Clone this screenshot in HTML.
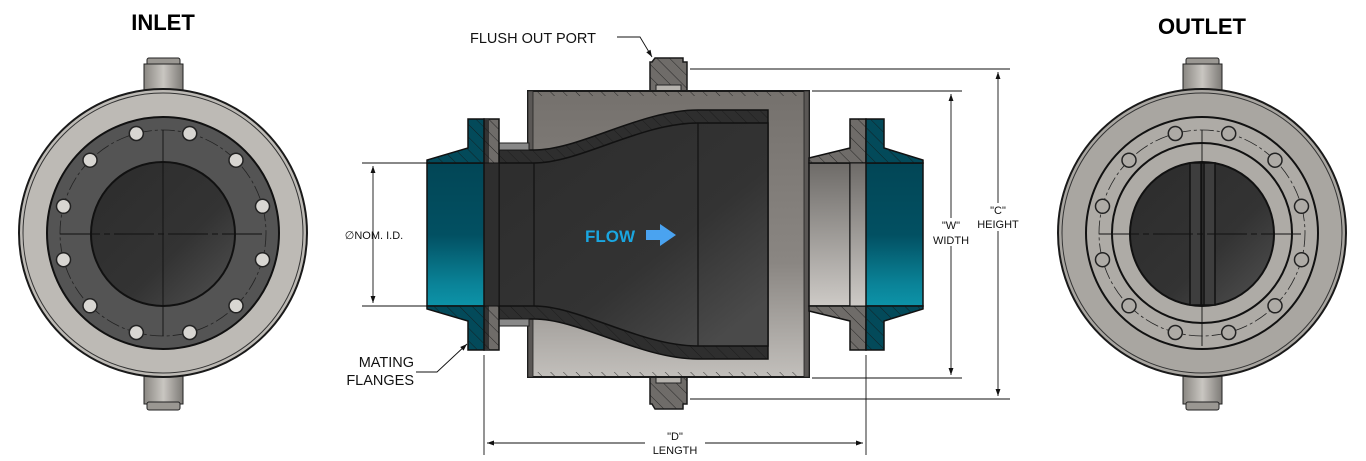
<!DOCTYPE html>
<html><head><meta charset="utf-8"><style>
html,body{margin:0;padding:0;background:#fff;}
svg{display:block;font-family:"Liberation Sans",sans-serif;}
</style></head><body>
<svg width="1366" height="461" viewBox="0 0 1366 461" xmlns="http://www.w3.org/2000/svg">
<defs>
<pattern id="h" patternUnits="userSpaceOnUse" width="9" height="9" patternTransform="rotate(-45)">
<line x1="0" y1="0" x2="0" y2="9" stroke="#151515" stroke-width="0.8"/></pattern>
<linearGradient id="teal" x1="0" y1="0" x2="0" y2="1"><stop offset="0" stop-color="#024656"/><stop offset="0.5" stop-color="#025062"/><stop offset="0.85" stop-color="#0a8398"/><stop offset="1" stop-color="#0d93a8"/></linearGradient>
<linearGradient id="hous" x1="0" y1="0" x2="0" y2="1"><stop offset="0" stop-color="#75716d"/><stop offset="0.6" stop-color="#8a8682"/><stop offset="1" stop-color="#c2bfbb"/></linearGradient>
<linearGradient id="neck" x1="0" y1="0" x2="0" y2="1"><stop offset="0" stop-color="#6e6b68"/><stop offset="1" stop-color="#cdcac6"/></linearGradient>
<linearGradient id="bore" x1="0" y1="0" x2="1" y2="1"><stop offset="0" stop-color="#2c2c2c"/><stop offset="0.6" stop-color="#333"/><stop offset="0.9" stop-color="#4a4a4a"/></linearGradient>
<linearGradient id="port" x1="0" y1="0" x2="1" y2="0"><stop offset="0" stop-color="#8a8782"/><stop offset="0.5" stop-color="#c9c6c1"/><stop offset="1" stop-color="#7d7a76"/></linearGradient>
<marker id="ar" viewBox="0 0 10 10" refX="10" refY="5" markerWidth="10" markerHeight="7" orient="auto-start-reverse" markerUnits="userSpaceOnUse"><path d="M0,1.5 L10,5 L0,8.5z" fill="#111"/></marker>
</defs>

<!-- ===== INLET ===== -->
<text x="163" y="30" font-size="22" font-weight="bold" text-anchor="middle">INLET</text>
<g>
<rect x="147" y="58" width="33" height="8" rx="2" fill="#9a9792" stroke="#222"/>
<rect x="144" y="64" width="39" height="28" fill="url(#port)" stroke="#222"/>
<rect x="144" y="374" width="39" height="30" fill="url(#port)" stroke="#222"/>
<rect x="147" y="402" width="33" height="8" rx="2" fill="#9a9792" stroke="#222"/>
<circle cx="163" cy="233" r="144" fill="#bdbab5" stroke="#1a1a1a" stroke-width="2"/>
<circle cx="163" cy="233" r="140" fill="none" stroke="#333" stroke-width="1"/>
<circle cx="163" cy="233" r="116" fill="#545454" stroke="#111" stroke-width="2"/>
<circle cx="163" cy="233" r="103" fill="none" stroke="#222" stroke-width="0.8" stroke-dasharray="14,3,3,3"/>
<circle cx="163" cy="234" r="72" fill="url(#bore)" stroke="#111" stroke-width="2"/>
<line x1="60" y1="234" x2="266" y2="234" stroke="#111" stroke-width="0.9" stroke-dasharray="40,4,6,4"/>
<line x1="163" y1="130" x2="163" y2="336" stroke="#111" stroke-width="0.9"/>
</g>
<g id="boltsI" fill="#d8d6d2" stroke="#222" stroke-width="1.5">
<circle cx="189.7" cy="133.5" r="7"/><circle cx="236" cy="160.2" r="7"/><circle cx="262.5" cy="206.3" r="7"/><circle cx="262.5" cy="259.7" r="7"/><circle cx="236" cy="305.8" r="7"/><circle cx="189.7" cy="332.5" r="7"/><circle cx="136.3" cy="332.5" r="7"/><circle cx="90" cy="305.8" r="7"/><circle cx="63.5" cy="259.7" r="7"/><circle cx="63.5" cy="206.3" r="7"/><circle cx="90" cy="160.2" r="7"/><circle cx="136.3" cy="133.5" r="7"/>
</g>

<!-- ===== OUTLET ===== -->
<text x="1202" y="34" font-size="22" font-weight="bold" text-anchor="middle">OUTLET</text>
<g>
<rect x="1186" y="58" width="33" height="8" rx="2" fill="#9a9792" stroke="#222"/>
<rect x="1183" y="64" width="39" height="28" fill="url(#port)" stroke="#222"/>
<rect x="1183" y="374" width="39" height="30" fill="url(#port)" stroke="#222"/>
<rect x="1186" y="402" width="33" height="8" rx="2" fill="#9a9792" stroke="#222"/>
<circle cx="1202" cy="233" r="144" fill="#a9a6a1" stroke="#1a1a1a" stroke-width="2"/>
<circle cx="1202" cy="233" r="140" fill="none" stroke="#333" stroke-width="1"/>
<circle cx="1202" cy="233" r="116" fill="#aeaba6" stroke="#111" stroke-width="2"/>
<circle cx="1202" cy="233" r="90" fill="none" stroke="#111" stroke-width="2"/>
<circle cx="1202" cy="233" r="103" fill="none" stroke="#222" stroke-width="0.8" stroke-dasharray="14,3,3,3"/>
<circle cx="1202" cy="234" r="72" fill="url(#bore)" stroke="#111" stroke-width="2"/>
<rect x="1190" y="163" width="25" height="142" fill="#3e3e3e" stroke="#111" stroke-width="1.5"/>
<line x1="1201" y1="163" x2="1201" y2="305" stroke="#111" stroke-width="1.5"/>
<line x1="1204" y1="163" x2="1204" y2="305" stroke="#111" stroke-width="1.5"/>
<line x1="1099" y1="234" x2="1305" y2="234" stroke="#111" stroke-width="0.9" stroke-dasharray="40,4,6,4"/>
<line x1="1202" y1="130" x2="1202" y2="346" stroke="#111" stroke-width="0.9"/>
</g>
<g fill="#aeaba6" stroke="#222" stroke-width="1.5">
<circle cx="1228.7" cy="133.5" r="7"/><circle cx="1275" cy="160.2" r="7"/><circle cx="1301.5" cy="206.3" r="7"/><circle cx="1301.5" cy="259.7" r="7"/><circle cx="1275" cy="305.8" r="7"/><circle cx="1228.7" cy="332.5" r="7"/><circle cx="1175.3" cy="332.5" r="7"/><circle cx="1129" cy="305.8" r="7"/><circle cx="1102.5" cy="259.7" r="7"/><circle cx="1102.5" cy="206.3" r="7"/><circle cx="1129" cy="160.2" r="7"/><circle cx="1175.3" cy="133.5" r="7"/>
</g>

<!-- ===== SECTION VIEW ===== -->
<!-- ports -->
<path d="M652,62 L655,58 L683,58 L683,62 L687,62 L687,91 L650,91 L650,62Z" fill="#6f6c69" stroke="#1a1a1a" stroke-width="1.5"/>
<path d="M652,62 L655,58 L683,58 L683,62 L687,62 L687,91 L650,91 L650,62Z" fill="url(#h)"/>
<rect x="656" y="85" width="25" height="6" fill="#b5b2ad" stroke="#222"/>
<path d="M650,377 L687,377 L687,404 L683,404 L683,409 L655,409 L652,404 L650,404Z" fill="#6f6c69" stroke="#1a1a1a" stroke-width="1.5"/>
<path d="M650,377 L687,377 L687,404 L683,404 L683,409 L655,409 L652,404 L650,404Z" fill="url(#h)"/>
<rect x="656" y="377" width="25" height="6" fill="#b5b2ad" stroke="#222"/>
<!-- housing -->
<rect x="528" y="91" width="281" height="286" fill="url(#hous)" stroke="#1a1a1a" stroke-width="2"/>
<rect x="528" y="91" width="281" height="5" fill="url(#h)"/>
<rect x="528" y="372" width="281" height="5" fill="url(#h)"/>
<rect x="804" y="91" width="5" height="286" fill="#5a5755" stroke="#222" stroke-width="0.8"/>
<rect x="528" y="91" width="5" height="286" fill="#5a5755" stroke="#222" stroke-width="0.8"/>
<!-- liner -->
<path d="M499,150 L534,150 C580,150 640,110 698,110 L768,110 L768,359 L698,359 C640,359 580,319 534,319 L499,319Z" fill="#2e2e2e" stroke="#111" stroke-width="1.5"/>
<path d="M499,150 L534,150 C580,150 640,110 698,110 L768,110 L768,359 L698,359 C640,359 580,319 534,319 L499,319Z" fill="url(#h)" opacity="0.9"/>
<path d="M484,163 L534,163 C580,163 640,123 698,123 L768,123 L768,346 L698,346 C640,346 580,306 534,306 L484,306Z" fill="url(#bore)" stroke="#111" stroke-width="1.5"/>
<line x1="534" y1="163" x2="534" y2="306" stroke="#111" stroke-width="1.2"/>
<line x1="698" y1="123" x2="698" y2="346" stroke="#111" stroke-width="1.2"/>
<!-- slots -->
<rect x="499" y="143" width="30" height="7" fill="#888" stroke="#222"/>
<rect x="499" y="319" width="30" height="7" fill="#888" stroke="#222"/>
<!-- left liner flange -->
<rect x="484" y="119" width="15" height="231" fill="#6f6c69" stroke="#111" stroke-width="1.5"/>
<rect x="484" y="119" width="5" height="231" fill="#333"/>
<rect x="484" y="119" width="15" height="231" fill="url(#h)"/>
<rect x="484" y="163" width="15" height="143" fill="#2e2e2e" stroke="#111"/>
<!-- left teal flange -->
<rect x="427" y="163" width="57" height="143" fill="url(#teal)" stroke="#111" stroke-width="1.5"/>
<path d="M427,163 L427,160 L468,148 L468,119 L484,119 L484,163Z" fill="#034a5a" stroke="#111" stroke-width="1.5"/>
<path d="M427,163 L427,160 L468,148 L468,119 L484,119 L484,163Z" fill="url(#h)"/>
<path d="M427,306 L427,309 L468,321 L468,350 L484,350 L484,306Z" fill="#034a5a" stroke="#111" stroke-width="1.5"/>
<path d="M427,306 L427,309 L468,321 L468,350 L484,350 L484,306Z" fill="url(#h)"/>
<!-- right neck -->
<rect x="809" y="163" width="41" height="143" fill="url(#neck)" stroke="#111" stroke-width="1.5"/>
<path d="M809,163 L809,158 L850,148 L850,119 L866,119 L866,163Z" fill="#6f6c69" stroke="#111" stroke-width="1.5"/>
<path d="M809,163 L809,158 L850,148 L850,119 L866,119 L866,163Z" fill="url(#h)"/>
<path d="M809,306 L809,311 L850,321 L850,350 L866,350 L866,306Z" fill="#6f6c69" stroke="#111" stroke-width="1.5"/>
<path d="M809,306 L809,311 L850,321 L850,350 L866,350 L866,306Z" fill="url(#h)"/>
<rect x="850" y="163" width="16" height="143" fill="url(#neck)" stroke="#111" stroke-width="1"/>
<!-- right teal flange -->
<rect x="866" y="163" width="57" height="143" fill="url(#teal)" stroke="#111" stroke-width="1.5"/>
<path d="M866,163 L866,119 L884,119 L884,148 L923,160 L923,163Z" fill="#034a5a" stroke="#111" stroke-width="1.5"/>
<path d="M866,163 L866,119 L884,119 L884,148 L923,160 L923,163Z" fill="url(#h)"/>
<path d="M866,306 L866,350 L884,350 L884,321 L923,309 L923,306Z" fill="#034a5a" stroke="#111" stroke-width="1.5"/>
<path d="M866,306 L866,350 L884,350 L884,321 L923,309 L923,306Z" fill="url(#h)"/>

<!-- FLOW -->
<text x="585" y="242" font-size="17" font-weight="bold" fill="#1aa6e0">FLOW</text>
<path d="M646,230 L660,230 L660,224 L676,235 L660,246 L660,240 L646,240Z" fill="#4aa3f0"/>

<!-- dimensions -->
<g stroke="#111" stroke-width="0.9" fill="none">
<line x1="690" y1="69" x2="1010" y2="69"/>
<line x1="690" y1="399" x2="1010" y2="399"/>
<line x1="998" y1="72" x2="998" y2="396" marker-start="url(#ar)" marker-end="url(#ar)"/>
<line x1="812" y1="91" x2="962" y2="91"/>
<line x1="812" y1="378" x2="962" y2="378"/>
<line x1="951" y1="94" x2="951" y2="375" marker-start="url(#ar)" marker-end="url(#ar)"/>
<line x1="362" y1="163" x2="427" y2="163"/>
<line x1="362" y1="306" x2="427" y2="306"/>
<line x1="373" y1="166" x2="373" y2="303" marker-start="url(#ar)" marker-end="url(#ar)"/>
<line x1="484" y1="355" x2="484" y2="455"/>
<line x1="866" y1="355" x2="866" y2="455"/>
<line x1="487" y1="443" x2="863" y2="443" marker-start="url(#ar)" marker-end="url(#ar)"/>
<path d="M617,37 L640,37 L652,57" marker-end="url(#ar)"/>
<path d="M416,372 L437,372 L467,344" marker-end="url(#ar)"/>
</g>
<g font-size="11" text-anchor="middle" fill="#111">
<rect x="975" y="203" width="46" height="28" fill="#fff"/>
<text x="998" y="214">"C"</text><text x="998" y="228">HEIGHT</text>
<rect x="930" y="218" width="44" height="28" fill="#fff"/>
<text x="951" y="229">"W"</text><text x="951" y="244">WIDTH</text>
<rect x="645" y="430" width="60" height="28" fill="#fff"/>
<text x="675" y="440">"D"</text><text x="675" y="454">LENGTH</text>
<text x="374" y="239" font-size="11">∅NOM. I.D.</text>
</g>
<text x="470" y="43" font-size="14.5" fill="#111">FLUSH OUT PORT</text>
<text x="414" y="367" font-size="14.5" fill="#111" text-anchor="end">MATING</text>
<text x="414" y="385" font-size="14.5" fill="#111" text-anchor="end">FLANGES</text>
</svg>
</body></html>
